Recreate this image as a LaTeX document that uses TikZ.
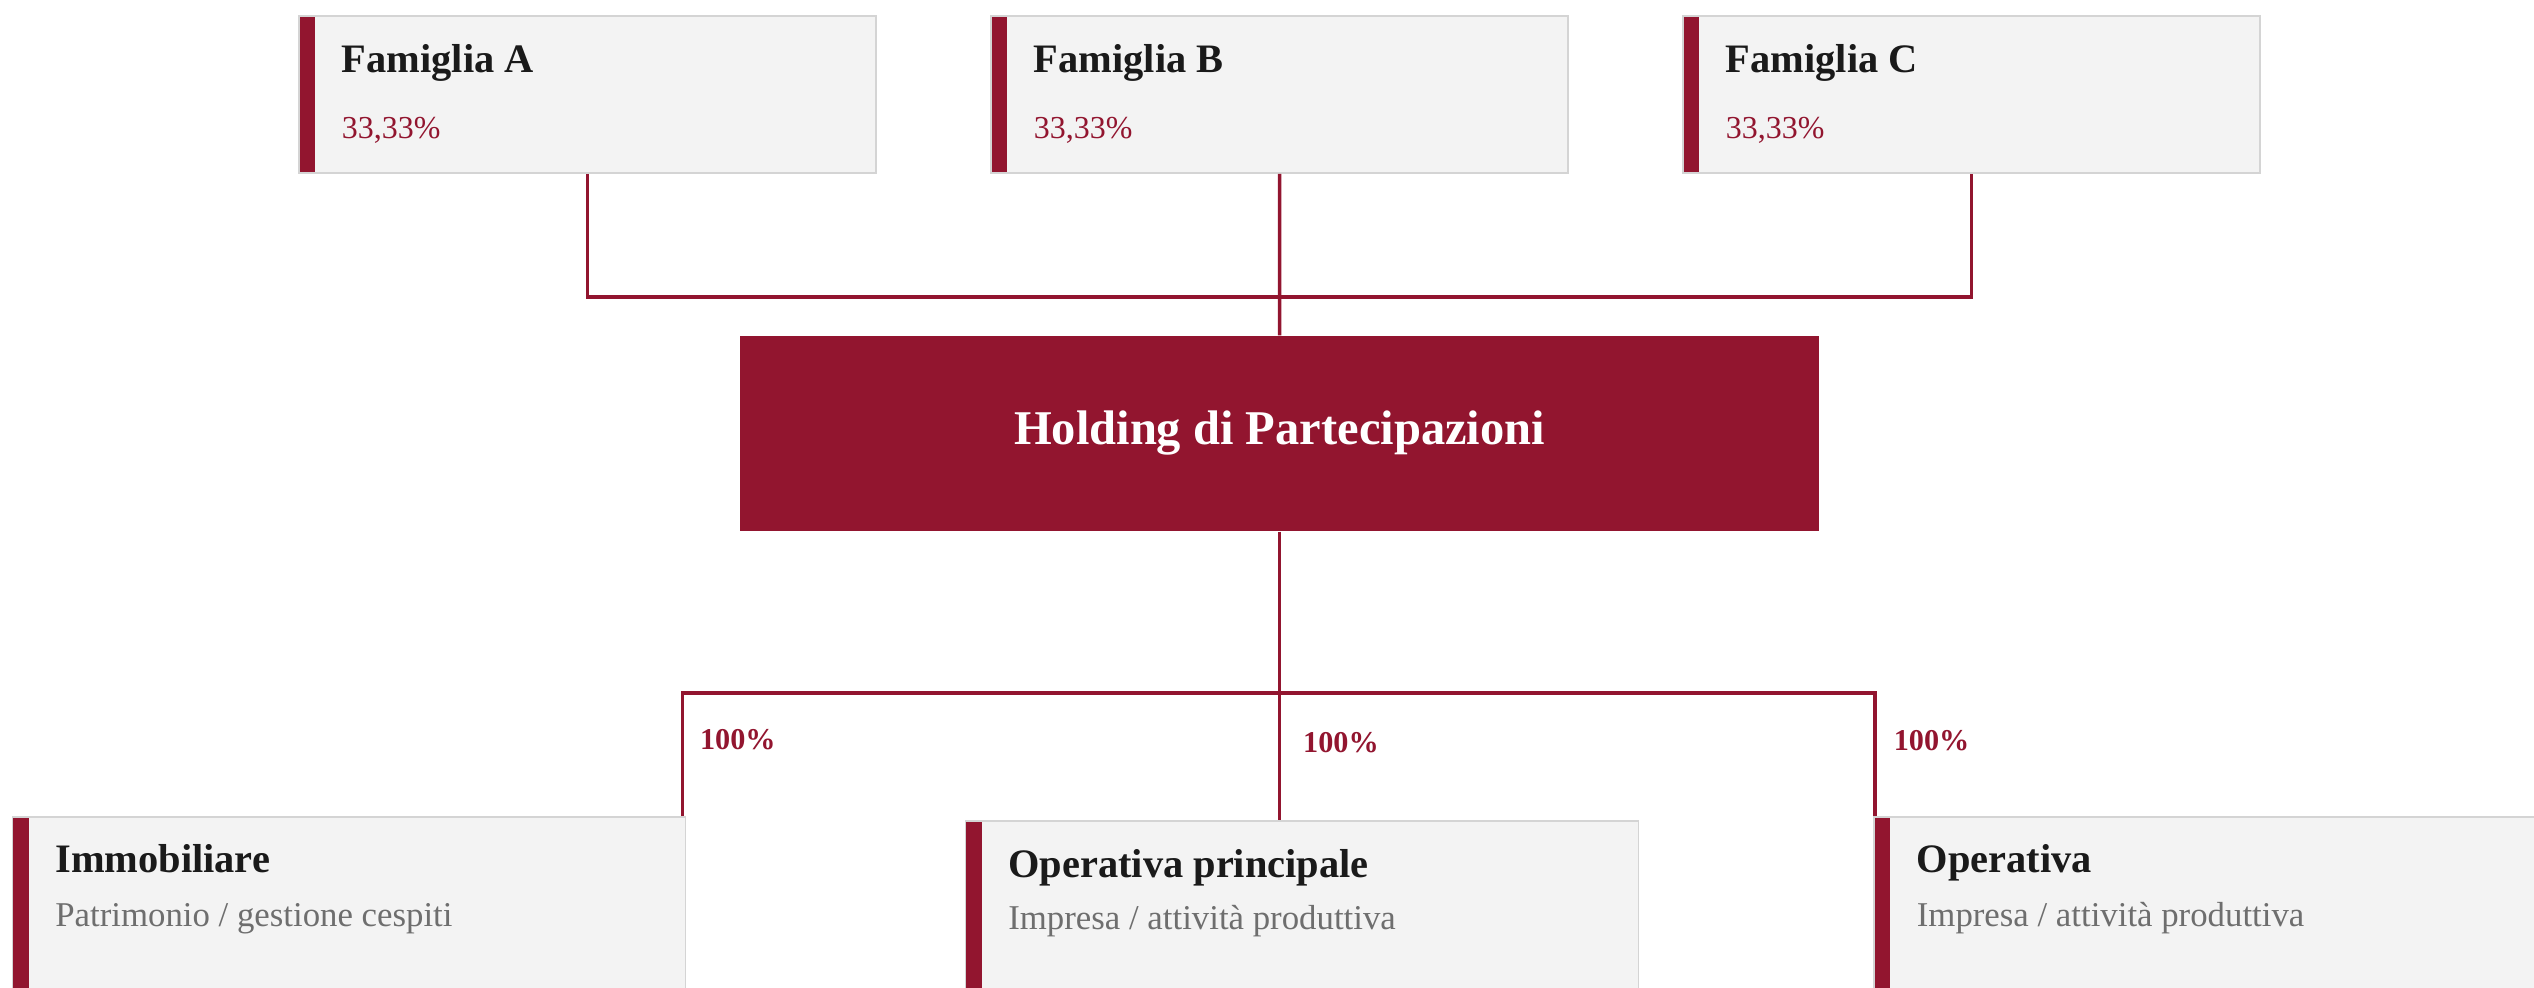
\documentclass[tikz,border=0pt]{standalone}
\usepackage{fontspec}
\setmainfont{Liberation Serif}
\usepackage{tikz}
\usetikzlibrary{positioning}
\definecolor{bordeaux}{RGB}{146,21,47}
\definecolor{boxfill}{RGB}{243,243,243}
\definecolor{boxline}{RGB}{212,212,212}
\definecolor{titlegray}{RGB}{26,26,26}
\definecolor{subgray}{RGB}{110,110,110}
\tikzset{
    family/.style={
           rectangle,
           draw=boxline, line width=0.5pt,
           fill=boxfill,
           minimum width=5.77cm,
           minimum height=1.57cm,
           inner sep=0pt,
           path picture={\fill[bordeaux] (path picture bounding box.north west)
                rectangle ([xshift=0.16cm]path picture bounding box.south west);}
           },
    company/.style={
           family,
           minimum width=6.73cm,
           minimum height=2.3cm
           },
    holding/.style={
           rectangle,
           fill=bordeaux,
           minimum width=10.79cm,
           minimum height=1.95cm,
           text=white,
           font=\bfseries\fontsize{13.8}{16}\selectfont
           },
    title/.style={
           anchor=base west, inner sep=0pt,
           text=titlegray,
           font=\bfseries\fontsize{11.5}{13}\selectfont
           },
    quota/.style={
           anchor=base west, inner sep=0pt,
           text=bordeaux,
           font=\fontsize{9.1}{11}\selectfont
           },
    subtitle/.style={
           anchor=base west, inner sep=0pt,
           text=subgray,
           font=\fontsize{9.9}{11}\selectfont
           },
    share/.style={
           anchor=base west, inner sep=0pt,
           text=bordeaux,
           font=\bfseries\fontsize{8.6}{10}\selectfont
           },
    link/.style={
           draw=bordeaux,
           line width=1pt
           }
}

\begin{document}
\begin{tikzpicture}[node distance=6.92cm, on grid]
   \clip (0,0) rectangle (25.34,-9.88);
   % soci
   \node[family] (famA) at (5.875,-0.945) {};
   \node[family] (famB)[right=of famA] {};
   \node[family] (famC)[right=of famB] {};
   \node[title] at ([xshift=0.43cm,yshift=-0.57cm]famA.north west) {Famiglia A};
   \node[quota] at ([xshift=0.43cm,yshift=-1.23cm]famA.north west) {33,33\%};
   \node[title] at ([xshift=0.43cm,yshift=-0.57cm]famB.north west) {Famiglia B};
   \node[quota] at ([xshift=0.43cm,yshift=-1.23cm]famB.north west) {33,33\%};
   \node[title] at ([xshift=0.43cm,yshift=-0.57cm]famC.north west) {Famiglia C};
   \node[quota] at ([xshift=0.43cm,yshift=-1.23cm]famC.north west) {33,33\%};
   % holding
   \node[holding] (hold) at (12.795,-4.335) {Holding di Partecipazioni};
   % controllate
   \node[company] (imm) at (3.49,-9.32) {};
   \node[company] (opp) at (13.02,-9.36) {};
   \node[company] (ope) at (22.105,-9.32) {};
   \node[title] at ([xshift=0.43cm,yshift=-0.56cm]imm.north west) {Immobiliare};
   \node[subtitle] at ([xshift=0.43cm,yshift=-1.10cm]imm.north west) {Patrimonio / gestione cespiti};
   \node[title] at ([xshift=0.43cm,yshift=-0.57cm]opp.north west) {Operativa principale};
   \node[subtitle] at ([xshift=0.43cm,yshift=-1.09cm]opp.north west) {Impresa / attività produttiva};
   \node[title] at ([xshift=0.43cm,yshift=-0.56cm]ope.north west) {Operativa};
   \node[subtitle] at ([xshift=0.43cm,yshift=-1.10cm]ope.north west) {Impresa / attività produttiva};
   % collegamenti
   \coordinate (jtop) at (12.795,-2.97);
   \coordinate (jbot) at (12.795,-6.93);
   \coordinate (immtop) at ([xshift=-0.04cm]imm.north east);
   \coordinate (opetop) at ([xshift=0.02cm]ope.north west);
   \draw[link] (famA.south) |- (jtop) -| (famC.south);
   \draw[link] (famB.south) -- (hold.north);
   \draw[link] (hold.south) -- (jbot);
   \draw[link] (immtop) |- (jbot) -| (opetop);
   \draw[link] (jbot) -- (jbot |- opp.north);
   % quote
   \node[share] at ([xshift=0.17cm,yshift=0.67cm]immtop) {100\%};
   \node[share] at ([xshift=0.23cm,yshift=0.68cm]jbot |- opp.north) {100\%};
   \node[share] at ([xshift=0.18cm,yshift=0.66cm]opetop) {100\%};
\end{tikzpicture}
\end{document}
